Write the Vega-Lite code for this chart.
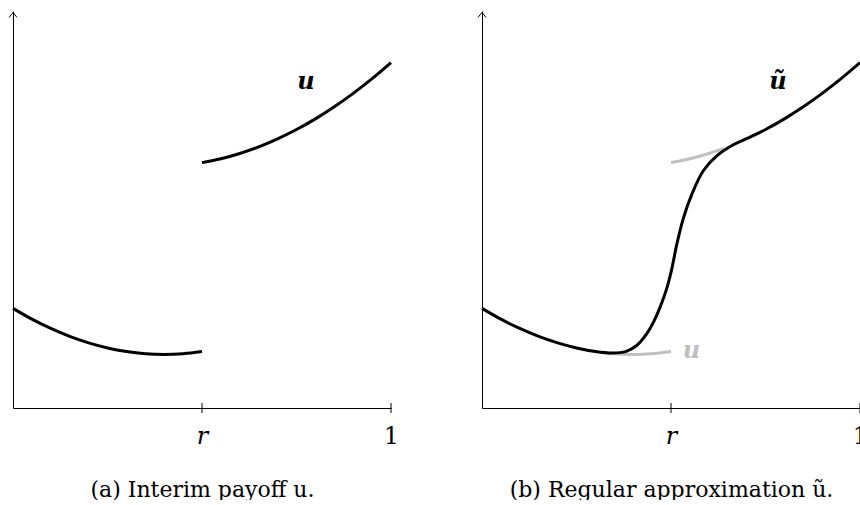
{
  "$schema": "https://vega.github.io/schema/vega-lite/v6.json",
  "background": "white",
  "padding": {"left": 7, "top": 10, "right": 0, "bottom": 0},
  "config": {"view": {"stroke": null}, "axis": {"grid": false}},
  "bounds": "flush",
  "spacing": 91,
  "datasets": {
    "ulo": [
      {"x": 0, "y": 25.1}, {"x": 0.05, "y": 22.38}, {"x": 0.1, "y": 20.03}, {"x": 0.15, "y": 18.03},
      {"x": 0.2, "y": 16.4}, {"x": 0.25, "y": 15.13}, {"x": 0.3, "y": 14.23}, {"x": 0.35, "y": 13.68},
      {"x": 0.4, "y": 13.5}, {"x": 0.45, "y": 13.68}, {"x": 0.5, "y": 14.23}
    ],
    "uhi": [
      {"x": 0.5, "y": 61.8}, {"x": 0.55, "y": 62.79}, {"x": 0.6, "y": 64.12}, {"x": 0.65, "y": 65.78},
      {"x": 0.7, "y": 67.79}, {"x": 0.75, "y": 70.14}, {"x": 0.8, "y": 72.83}, {"x": 0.85, "y": 75.86},
      {"x": 0.9, "y": 79.24}, {"x": 0.95, "y": 82.95}, {"x": 1.0, "y": 87.0}
    ],
    "glo": [
      {"x": 0.33, "y": 13.86}, {"x": 0.35, "y": 13.68}, {"x": 0.4, "y": 13.5}, {"x": 0.45, "y": 13.68}, {"x": 0.5, "y": 14.23}
    ],
    "ghi": [
      {"x": 0.5, "y": 61.8}, {"x": 0.55, "y": 62.79}, {"x": 0.6, "y": 64.12}, {"x": 0.64, "y": 65.42}
    ],
    "ut": [
      {"x": 0, "y": 25.1}, {"x": 0.05, "y": 22.38}, {"x": 0.1, "y": 20.03}, {"x": 0.15, "y": 18.03},
      {"x": 0.2, "y": 16.4}, {"x": 0.25, "y": 15.13}, {"x": 0.3, "y": 14.23}, {"x": 0.345, "y": 13.85},
      {"x": 0.38, "y": 14.2}, {"x": 0.41, "y": 15.8}, {"x": 0.435, "y": 18.6}, {"x": 0.455, "y": 21.9},
      {"x": 0.472, "y": 25.6}, {"x": 0.489, "y": 30.2}, {"x": 0.502, "y": 35.0}, {"x": 0.515, "y": 41.1},
      {"x": 0.533, "y": 47.9}, {"x": 0.555, "y": 53.8}, {"x": 0.585, "y": 59.7}, {"x": 0.621, "y": 63.5},
      {"x": 0.665, "y": 66.3}, {"x": 0.7, "y": 67.85}, {"x": 0.75, "y": 70.14}, {"x": 0.8, "y": 72.83},
      {"x": 0.85, "y": 75.86}, {"x": 0.9, "y": 79.24}, {"x": 0.95, "y": 82.95}, {"x": 1.0, "y": 87.0}
    ],
    "ticks": [{"x": 0.5, "y1": -1.26, "y2": 1.26}, {"x": 1, "y1": -1.26, "y2": 1.26}],
    "arrow": [{"x": 0, "y": 99}]
  },
  "hconcat": [
    {
      "width": 378,
      "height": 397,
      "layer": [
        {
          "data": {"name": "ulo"},
          "mark": {"type": "line", "interpolate": "monotone", "strokeWidth": 3, "color": "black"},
          "encoding": {
            "x": {"field": "x", "type": "quantitative", "scale": {"domain": [0, 1], "nice": false},
              "axis": {"values": [0.5, 1], "labelExpr": "datum.value == 0.5 ? 'r' : '1'", "ticks": false,
                "domainColor": "black", "domainWidth": 1, "labelFont": "DejaVu Serif", "labelFontSize": 24,
                "labelColor": "black", "labelFontStyle": {"condition": {"test": "datum.value == 0.5", "value": "italic"}, "value": "normal"},
                "labelBaseline": "alphabetic", "labelPadding": 35, "labelFlush": false, "labelOverlap": false,
                "title": "(a) Interim payoff u.", "titleFont": "DejaVu Serif", "titleFontSize": 22,
                "titleFontWeight": "normal", "titleColor": "black", "titleBaseline": "alphabetic", "titleY": 88}},
            "y": {"field": "y", "type": "quantitative", "scale": {"domain": [0, 100], "nice": false},
              "axis": {"labels": false, "ticks": false, "title": null, "domainColor": "black", "domainWidth": 1}}
          }
        },
        {
          "data": {"name": "uhi"},
          "mark": {"type": "line", "interpolate": "monotone", "strokeWidth": 3, "color": "black"},
          "encoding": {"x": {"field": "x", "type": "quantitative"}, "y": {"field": "y", "type": "quantitative"}}
        },
        {
          "data": {"name": "ticks"},
          "mark": {"type": "rule", "color": "black", "strokeWidth": 1},
          "encoding": {"x": {"field": "x", "type": "quantitative"}, "y": {"field": "y1", "type": "quantitative"}, "y2": {"field": "y2"}}
        },
        {
          "data": {"name": "arrow"},
          "mark": {"type": "point", "shape": "M -1 0.6 L 0 -0.6 L 1 0.6", "filled": false, "size": 64, "strokeWidth": 1, "color": "black", "opacity": 1},
          "encoding": {"x": {"field": "x", "type": "quantitative"}, "y": {"field": "y", "type": "quantitative"}}
        },
        {
          "data": {"values": [{"x": 0.775, "y": 80.4, "label": "u"}]},
          "mark": {"type": "text", "font": "DejaVu Serif", "fontSize": 24, "fontStyle": "italic", "fontWeight": "bold", "color": "black", "align": "center", "baseline": "alphabetic"},
          "encoding": {"x": {"field": "x", "type": "quantitative"}, "y": {"field": "y", "type": "quantitative"}, "text": {"field": "label"}}
        }
      ]
    },
    {
      "width": 378,
      "height": 397,
      "layer": [
        {
          "data": {"name": "glo"},
          "mark": {"type": "line", "interpolate": "monotone", "strokeWidth": 3, "color": "#bfbfbf"},
          "encoding": {
            "x": {"field": "x", "type": "quantitative", "scale": {"domain": [0, 1], "nice": false},
              "axis": {"values": [0.5, 1], "labelExpr": "datum.value == 0.5 ? 'r' : '1'", "ticks": false,
                "domainColor": "black", "domainWidth": 1, "labelFont": "DejaVu Serif", "labelFontSize": 24,
                "labelColor": "black", "labelFontStyle": {"condition": {"test": "datum.value == 0.5", "value": "italic"}, "value": "normal"},
                "labelBaseline": "alphabetic", "labelPadding": 35, "labelFlush": false, "labelOverlap": false,
                "title": "(b) Regular approximation ũ.", "titleFont": "DejaVu Serif", "titleFontSize": 22,
                "titleFontWeight": "normal", "titleColor": "black", "titleBaseline": "alphabetic", "titleY": 88}},
            "y": {"field": "y", "type": "quantitative", "scale": {"domain": [0, 100], "nice": false},
              "axis": {"labels": false, "ticks": false, "title": null, "domainColor": "black", "domainWidth": 1}}
          }
        },
        {
          "data": {"name": "ghi"},
          "mark": {"type": "line", "interpolate": "monotone", "strokeWidth": 3, "color": "#bfbfbf"},
          "encoding": {"x": {"field": "x", "type": "quantitative"}, "y": {"field": "y", "type": "quantitative"}}
        },
        {
          "data": {"name": "ut"},
          "mark": {"type": "line", "interpolate": "catmull-rom", "strokeWidth": 3, "color": "black"},
          "encoding": {"x": {"field": "x", "type": "quantitative"}, "y": {"field": "y", "type": "quantitative"}}
        },
        {
          "data": {"name": "ticks"},
          "mark": {"type": "rule", "color": "black", "strokeWidth": 1},
          "encoding": {"x": {"field": "x", "type": "quantitative"}, "y": {"field": "y1", "type": "quantitative"}, "y2": {"field": "y2"}}
        },
        {
          "data": {"name": "arrow"},
          "mark": {"type": "point", "shape": "M -1 0.6 L 0 -0.6 L 1 0.6", "filled": false, "size": 64, "strokeWidth": 1, "color": "black", "opacity": 1},
          "encoding": {"x": {"field": "x", "type": "quantitative"}, "y": {"field": "y", "type": "quantitative"}}
        },
        {
          "data": {"values": [{"x": 0.783, "y": 80.4, "label": "ũ", "c": "black"}, {"x": 0.554, "y": 12.6, "label": "u", "c": "#bfbfbf"}]},
          "mark": {"type": "text", "font": "DejaVu Serif", "fontSize": 24, "fontStyle": "italic", "fontWeight": "bold", "align": "center", "baseline": "alphabetic"},
          "encoding": {"x": {"field": "x", "type": "quantitative"}, "y": {"field": "y", "type": "quantitative"}, "text": {"field": "label"},
            "color": {"field": "c", "type": "nominal", "scale": null}}
        }
      ]
    }
  ]
}
